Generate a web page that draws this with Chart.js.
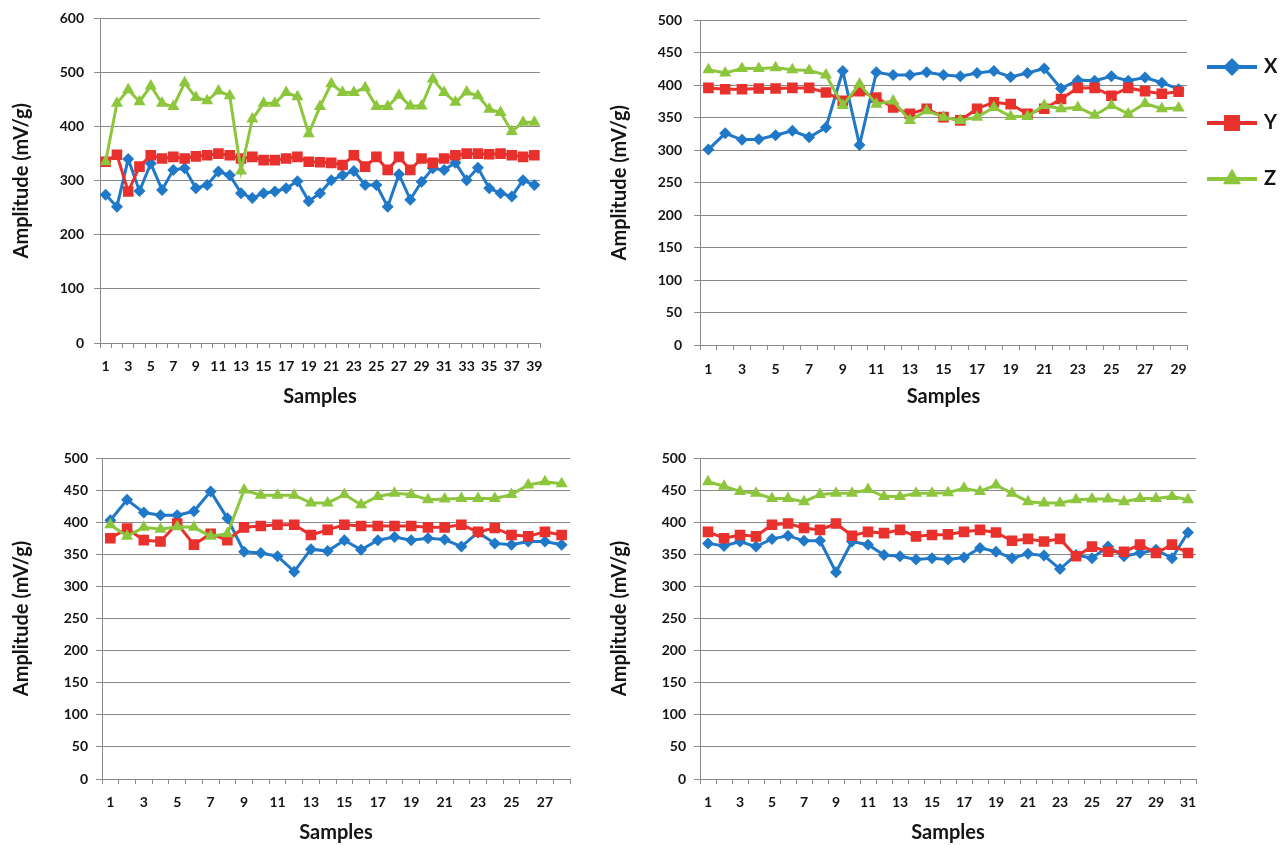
<!DOCTYPE html>
<html>
<head>
<meta charset="utf-8">
<script src="https://cdn.jsdelivr.net/npm/chart.js@4.4.1/dist/chart.umd.min.js"></script>
<style>
  html, body { margin: 0; padding: 0; background: #ffffff; }
  body { width: 1285px; height: 845px; position: relative; overflow: hidden; }
  canvas { position: absolute; }
</style>
</head>
<body>
<canvas id="c1" width="600" height="420" style="left:0px;top:0px"></canvas>
<canvas id="c2" width="685" height="420" style="left:600px;top:0px"></canvas>
<canvas id="c3" width="600" height="405" style="left:0px;top:440px"></canvas>
<canvas id="c4" width="685" height="405" style="left:600px;top:440px"></canvas>
<script>
// ---- series names ----
const seriesNames = ['X', 'Y', 'Z'];

// ---- panel 1 (top left) ----
const samples1 = [1,2,3,4,5,6,7,8,9,10,11,12,13,14,15,16,17,18,19,20,21,22,23,24,25,26,27,28,29,30,31,32,33,34,35,36,37,38,39];
const x1 = [274,252,340,281,332,283,320,323,286,292,317,310,277,268,277,280,286,299,262,277,301,310,318,292,292,252,312,265,298,323,320,333,301,324,286,277,271,301,292];
const y1 = [335,348,280,326,347,341,344,341,345,347,350,347,341,344,338,338,341,344,335,334,333,329,347,326,344,320,344,320,341,333,341,347,350,350,349,350,347,344,347];
const z1 = [335,443,468,446,475,443,437,481,454,448,466,457,318,414,443,443,463,455,387,437,479,463,463,472,437,437,458,438,438,488,463,445,464,457,432,426,391,408,408];

// ---- panel 2 (top right) ----
const samples2 = [1,2,3,4,5,6,7,8,9,10,11,12,13,14,15,16,17,18,19,20,21,22,23,24,25,26,27,28,29];
const x2 = [301,326,316,317,323,330,320,335,422,308,420,416,416,420,416,414,419,422,413,419,426,395,408,407,414,407,412,404,394];
const y2 = [396,394,394,395,395,396,396,389,376,391,381,366,356,364,351,346,364,374,371,356,364,379,396,396,384,396,391,387,390];
const z2 = [424,419,426,426,427,424,423,416,369,402,371,376,346,361,351,346,351,366,352,352,369,364,366,354,369,356,372,364,365];

// ---- panel 3 (bottom left) ----
const samples3 = [1,2,3,4,5,6,7,8,9,10,11,12,13,14,15,16,17,18,19,20,21,22,23,24,25,26,27,28];
const x3 = [403,435,415,411,411,417,448,406,354,352,347,323,358,355,372,357,372,377,372,375,373,362,384,367,365,370,370,365];
const y3 = [375,390,372,370,398,365,382,372,392,394,396,396,380,388,396,394,394,394,394,392,392,396,385,391,380,378,385,380];
const z3 = [396,378,392,389,393,392,378,382,450,442,442,442,430,430,443,427,440,445,443,435,436,437,437,437,443,458,463,460];

// ---- panel 4 (bottom right) ----
const samples4 = [1,2,3,4,5,6,7,8,9,10,11,12,13,14,15,16,17,18,19,20,21,22,23,24,25,26,27,28,29,30,31];
const x4 = [367,363,370,362,374,379,371,371,322,370,365,349,347,342,344,342,345,360,354,344,351,348,327,349,344,362,347,352,357,344,384];
const y4 = [385,375,380,378,396,398,391,388,398,379,385,383,388,378,380,381,385,388,384,371,374,370,374,347,362,354,354,365,352,365,352];
const z4 = [463,456,448,445,437,437,432,443,445,445,451,440,440,445,445,446,453,448,458,445,432,430,430,435,436,436,432,437,437,440,435];

// ---- styling ----
const FONT = 'Lato, "Liberation Sans", Arial, sans-serif';
const GRID = '#8a8a8a';
const TEXT = '#141414';
const COLORS = ['#1f78c8', '#e8302c', '#8cc63c'];
const MARKERS = ['rectRot', 'rect', 'triangle'];
const RADII = [6, 7.5, 7];

Chart.defaults.font.family = FONT;
Chart.defaults.color = TEXT;

function drawMarker(ctx, style, x, y, r, color) {
  ctx.fillStyle = color;
  ctx.beginPath();
  if (style === 'rectRot') {
    ctx.moveTo(x, y - r); ctx.lineTo(x + r, y); ctx.lineTo(x, y + r); ctx.lineTo(x - r, y);
  } else if (style === 'rect') {
    const s = r * Math.SQRT1_2;
    ctx.rect(x - s, y - s, 2 * s, 2 * s);
  } else {
    const h = r * Math.sqrt(3) / 2;
    ctx.moveTo(x, y - r); ctx.lineTo(x + h, y + r / 2); ctx.lineTo(x - h, y + r / 2);
  }
  ctx.closePath();
  ctx.fill();
}

// key drawn to the right of the top-right panel
const sideKey = {
  id: 'sideKey',
  afterDraw(chart, args, opts) {
    if (!opts || !opts.show) return;
    const ctx = chart.ctx;
    chart.data.datasets.forEach((ds, i) => {
      const y = opts.top + i * opts.gap;
      ctx.save();
      ctx.strokeStyle = ds.borderColor;
      ctx.lineWidth = 4;
      ctx.beginPath();
      ctx.moveTo(opts.x0, y);
      ctx.lineTo(opts.x1, y);
      ctx.stroke();
      drawMarker(ctx, ds.pointStyle, (opts.x0 + opts.x1) / 2, y, ds.pointRadius * 1.5, ds.backgroundColor);
      ctx.fillStyle = TEXT;
      ctx.font = 'bold 20px ' + FONT;
      ctx.textAlign = 'left';
      ctx.textBaseline = 'middle';
      ctx.fillText(ds.label, opts.tx, y);
      ctx.restore();
    });
  }
};

function panel(id, labels, series, cfg) {
  const datasets = series.map((vals, i) => ({
    label: seriesNames[i],
    data: vals,
    borderColor: COLORS[i],
    backgroundColor: COLORS[i],
    borderWidth: 3,
    pointStyle: MARKERS[i],
    pointRadius: RADII[i],
    pointBorderWidth: 0,
    pointBackgroundColor: COLORS[i],
    tension: 0,
    order: 3 - i
  }));
  return new Chart(document.getElementById(id), {
    type: 'line',
    data: { labels, datasets },
    plugins: [sideKey],
    options: {
      responsive: false,
      animation: false,
      devicePixelRatio: 1,
      layout: { padding: { left: 0, right: cfg.padRight, top: cfg.padTop, bottom: 0 } },
      plugins: {
        legend: { display: false },
        tooltip: { enabled: false },
        sideKey: cfg.key || { show: false }
      },
      scales: {
        x: {
          type: 'category',
          offset: true,
          grid: { display: true, drawOnChartArea: false, drawTicks: true, tickLength: 5, offset: true, color: GRID, lineWidth: 1 },
          border: { display: true, color: GRID, width: 1 },
          ticks: {
            autoSkip: false, maxRotation: 0, minRotation: 0, padding: cfg.xTickPad,
            color: TEXT, font: { size: 14, weight: 'bold' },
            callback(value, index) { return index % 2 === 0 ? this.getLabelForValue(value) : ''; }
          },
          title: { display: true, text: 'Samples', color: TEXT, font: { size: 20, weight: 'bold' }, padding: { top: 0, bottom: cfg.xTitlePad } },
          afterFit(scale) { scale.height = cfg.xHeight; }
        },
        y: {
          min: 0, max: cfg.yMax,
          ticks: { stepSize: cfg.yStep, padding: cfg.yTickPad, color: TEXT, font: { size: 14, weight: 'bold' } },
          grid: { color: GRID, lineWidth: 1, drawTicks: true, tickLength: 6 },
          border: { display: true, color: GRID, width: 1 },
          title: { display: true, text: 'Amplitude (mV/g)', color: TEXT, font: { size: 20, weight: 'bold' }, padding: { top: cfg.yTitlePad, bottom: 0 } },
          afterFit(scale) { scale.width = cfg.yWidth; }
        }
      }
    }
  });
}

panel('c1', samples1, [x1, y1, z1], {
  yMax: 600, yStep: 100, padTop: 15, padRight: 60, yWidth: 100, xHeight: 77,
  xTickPad: 10, xTitlePad: 11, yTickPad: 10, yTitlePad: 10
});
panel('c2', samples2, [x2, y2, z2], {
  yMax: 500, yStep: 50, padTop: 15, padRight: 98, yWidth: 100, xHeight: 75,
  xTickPad: 11, xTitlePad: 11, yTickPad: 12, yTitlePad: 8,
  key: { show: true, x0: 607, x1: 657, tx: 664, top: 67, gap: 56 }
});
panel('c3', samples3, [x3, y3, z3], {
  yMax: 500, yStep: 50, padTop: 18, padRight: 30, yWidth: 102, xHeight: 66,
  xTickPad: 10, xTitlePad: 0, yTickPad: 8, yTitlePad: 10
});
panel('c4', samples4, [x4, y4, z4], {
  yMax: 500, yStep: 50, padTop: 18, padRight: 89, yWidth: 100, xHeight: 66,
  xTickPad: 10, xTitlePad: 0, yTickPad: 8, yTitlePad: 8
});
</script>
</body>
</html>
